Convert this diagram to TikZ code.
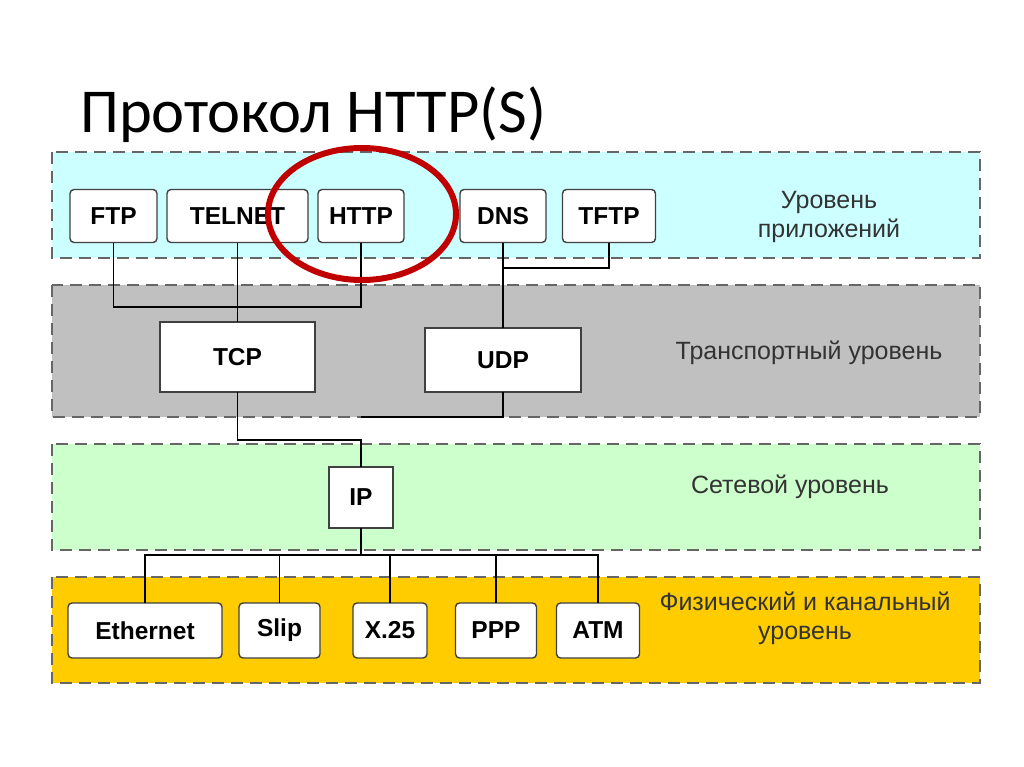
\documentclass[tikz,border=0pt]{standalone}
\usepackage{fontspec}
\setmainfont{Carlito}
\newfontfamily\arialfont{Liberation Sans}
\usepackage{tikz}

\definecolor{appfill}{HTML}{CCFFFF}
\definecolor{transfill}{HTML}{C0C0C0}
\definecolor{netfill}{HTML}{CCFFCC}
\definecolor{physfill}{HTML}{FFCC00}
\definecolor{ringred}{HTML}{C00000}

\tikzset{
  layer/.style={fill=#1, draw=black!60, line width=2pt, dash pattern=on 12pt off 7pt},
  proto/.style={draw=black!75, fill=white, line width=1.4pt, inner sep=0pt, outer sep=0pt,
    font=\arialfont\bfseries\fontsize{24.5}{24.5}\selectfont},
  roundproto/.style={proto, rounded corners=4pt, minimum height=53pt},
  layertext/.style={text=black!80, align=center, font=\arialfont\fontsize{25}{29}\selectfont},
  wire/.style={line width=1.4pt}
}

\begin{document}
\begin{tikzpicture}[x=1pt,y=-1pt]
  \useasboundingbox (0,0) rectangle (1024,767);
  \fill[white] (0,0) rectangle (1024,767);

  \node[anchor=base west, inner sep=0pt, font=\fontsize{62.5}{62.5}\selectfont] (title) at (80,133) {Протокол HTTP(S)};

  % layers
  \draw[layer=appfill]   (52,152) rectangle (980,258);
  \draw[layer=transfill] (52,285) rectangle (980,417);
  \draw[layer=netfill]   (52,444) rectangle (980,550);
  \draw[layer=physfill]  (52,577) rectangle (980,683);

  \node[layertext] (applabel)   at (829,217) {Уровень\\приложений};
  \node[layertext] (translabel) at (809,353) {Транспортный уровень};
  \node[layertext] (netlabel)   at (790,487) {Сетевой уровень};
  \node[layertext] (physlabel)  at (805,618) {Физический и канальный\\уровень};

  % application protocols
  \foreach \n/\t/\x/\w in {ftp/FTP/113.5/87, telnet/TELNET/237.5/141, http/HTTP/361/86,
                           dns/DNS/503/86, tftp/TFTP/609/93} {
    \node[roundproto, minimum width=\w pt] (\n) at (\x,216) {\t};
  }

  % transport and network
  \node[proto, minimum width=155pt, minimum height=70pt] (tcp) at (237.5,357) {TCP};
  \node[proto, minimum width=156pt, minimum height=64pt] (udp) at (503,360) {UDP};
  \node[proto, minimum width=64pt, minimum height=61pt] (ip) at (361,497.5) {IP};

  % physical protocols
  \foreach \n/\t/\x/\w in {eth/Ethernet/145/154, slip/Slip/279.5/81, xtf/X.25/390/74,
                           ppp/PPP/496/81, atm/ATM/598/83} {
    \node[roundproto, minimum width=\w pt, minimum height=55pt] (\n) at (\x,630.5) {\t};
  }

  % buses
  \coordinate (appbus) at (0,307);
  \coordinate (udpbus) at (0,268);
  \coordinate (udpdown) at (0,417);
  \coordinate (tcpbus) at (0,440);
  \coordinate (physbus) at (0,555);

  \draw[wire] (ftp.south) |- (appbus -| http.south) -- (http.south);
  \draw[wire] (telnet.south) -- (tcp.north);
  \draw[wire] (udp.north) |- (udpbus -| tftp.south) -- (tftp.south);
  \draw[wire] (dns.south) -- (dns.south |- udpbus);
  \draw[wire] (tcp.south) |- (tcpbus -| ip.north) -- (ip.north);
  \draw[wire] (udp.south) |- (udpdown -| ip.north);
  \draw[wire] (ip.south) -- (ip.south |- physbus);
  \draw[wire] (eth.north) |- (physbus -| atm.north) -- (atm.north);
  \foreach \n in {slip,xtf,ppp} {
    \draw[wire] (\n.north) -- (\n.north |- physbus);
  }

  % highlight
  \draw[ringred, line width=6pt] (362,214) ellipse [x radius=94pt, y radius=66pt];
\end{tikzpicture}
\end{document}
